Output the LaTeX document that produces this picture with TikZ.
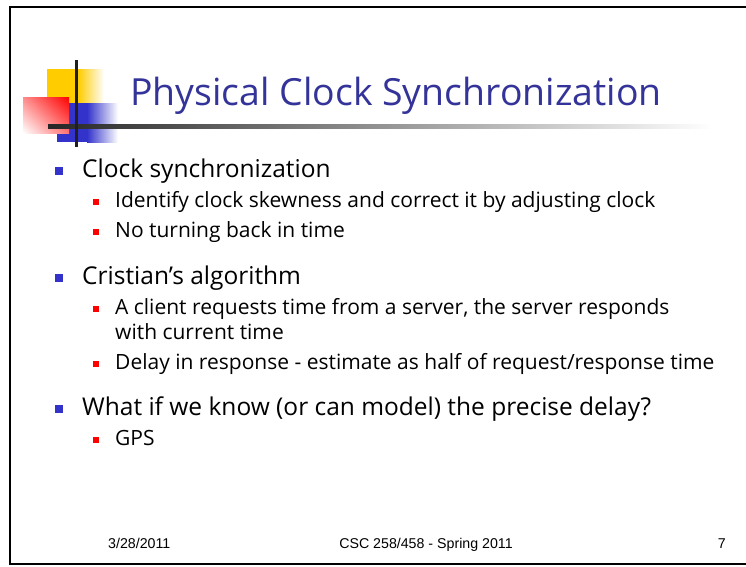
\documentclass[tikz,border=0pt]{standalone}
\usepackage{fontspec}
\setmainfont{Open Sans}
\newfontfamily\footfont{Liberation Sans}
\usetikzlibrary{positioning,shadings}
\definecolor{titleblue}{RGB}{51,51,153}
\definecolor{bulletblue}{RGB}{51,51,204}
\definecolor{logoyellow}{RGB}{255,204,0}
\definecolor{logored}{RGB}{255,0,0}

\begin{document}
\begin{tikzpicture}
  [x=1pt, y=-1pt,
   lvlone/.style={anchor=base west, inner sep=0pt, font=\fontsize{24.5}{29}\selectfont},
   lvltwo/.style={anchor=base west, inner sep=0pt, font=\fontsize{21}{25}\selectfont},
   footer/.style={inner sep=0pt, font=\footfont\fontsize{14.2}{16}\selectfont},
   bigdot/.style={fill=bulletblue, minimum size=8pt, inner sep=0pt},
   smalldot/.style={fill=logored, minimum size=6pt, inner sep=0pt}]
  \useasboundingbox (0,0) rectangle (746,566);

  % frame %
  \draw[line width=2.6pt, line join=miter] (746,7) -- (10,7) -- (10,564) -- (746,564);

  % logo %
  \fill[logoyellow] (47,69) rectangle (78,103);
  \shade[left color=logoyellow, right color=white] (78,69) rectangle (104,103);
  \fill[bulletblue] (57,103) rectangle (87,142);
  \shade[left color=bulletblue, right color=white] (87,103) rectangle (118,142);
  \shade[upper left=logored!45, upper right=logored, lower left=white, lower right=logored!55] (23,97) rectangle (69,133);
  \shade[left color=black!85, right color=white] (48,124) rectangle (712,128);
  \fill[black!88] (74.5,60) rectangle (77.5,147);

  % title %
  \node[anchor=base west, inner sep=0pt, text=titleblue, font=\fontsize{37.4}{44}\selectfont] (title) at (130,105) {Physical Clock Synchronization};

  % bullets %
  \node[lvlone] (sync) at (82,177) {Clock synchronization};
  \node[lvltwo] (skew) at (115,207) {Identify clock skewness and correct it by adjusting clock};
  \node[lvltwo] (noback) at (115,237) {No turning back in time};
  \node[lvlone] (cristian) at (82,284) {Cristian's algorithm};
  \node[lvltwo] (client) at (115,314) {A client requests time from a server, the server responds};
  \node[lvltwo] (current) at (115,339) {with current time};
  \node[lvltwo] (delay) at (115,369) {Delay in response - estimate as half of request/response time};
  \node[lvlone] (whatif) at (82,415) {What if we know (or can model) the precise delay?};
  \node[lvltwo] (gps) at (115,445) {GPS};

  \node[bigdot] (dsync) at (59,170.5) {};
  \node[smalldot] (dskew) at (96,201.5) {};
  \node[smalldot] (dnoback) at (96,231.5) {};
  \node[bigdot] (dcristian) at (59,277.5) {};
  \node[smalldot] (dclient) at (96,308.5) {};
  \node[smalldot] (ddelay) at (96,363.5) {};
  \node[bigdot] (dwhatif) at (59,408.5) {};
  \node[smalldot] (dgps) at (96,439.5) {};

  % footer %
  \node[footer, anchor=base west] (date) at (108,548) {3/28/2011};
  \node[footer, anchor=base] (course) at (426,548) {CSC 258/458 - Spring 2011};
  \node[footer, anchor=base east] (page) at (726,548) {7};
\end{tikzpicture}
\end{document}
